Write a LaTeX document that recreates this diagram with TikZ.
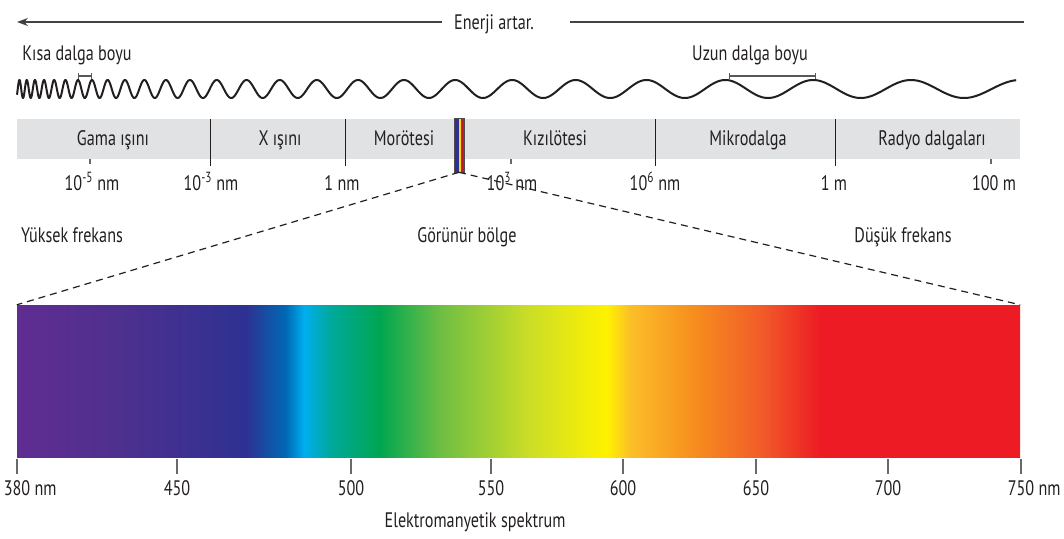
\documentclass[tikz,border=0pt]{standalone}
\usepackage{fontspec}
\setmainfont{PT Sans}[FakeStretch=0.77]
\usepackage{tikz}
\usetikzlibrary{arrows.meta,positioning}
\usepackage{xcolor}
\definecolor{ink}{RGB}{35,31,32}
\definecolor{bandgray}{RGB}{225,226,227}
\definecolor{tickgray}{RGB}{105,105,108}
\definecolor{sp0}{RGB}{96,45,145}
\definecolor{sp1}{RGB}{78,48,143}
\definecolor{sp2}{RGB}{46,49,146}
\definecolor{sp3}{RGB}{20,80,165}
\definecolor{sp4}{RGB}{0,104,180}
\definecolor{sp5}{RGB}{0,174,239}
\definecolor{sp6}{RGB}{0,169,157}
\definecolor{sp7}{RGB}{0,166,81}
\definecolor{sp8}{RGB}{110,190,68}
\definecolor{sp9}{RGB}{205,222,38}
\definecolor{sp10}{RGB}{255,242,0}
\definecolor{sp11}{RGB}{252,190,40}
\definecolor{sp12}{RGB}{246,142,30}
\definecolor{sp13}{RGB}{241,90,41}
\definecolor{sp14}{RGB}{237,28,36}
\definecolor{stripnavy}{RGB}{46,49,146}
\definecolor{stripyellow}{RGB}{255,222,0}
\definecolor{stripred}{RGB}{190,30,45}
\pgfdeclarehorizontalshading{visible}{100bp}{%
  color(0bp)=(sp0); color(25bp)=(sp0); color(30.1bp)=(sp1);
  color(36.4bp)=(sp2); color(37.5bp)=(sp3); color(38.4bp)=(sp4);
  color(39.3bp)=(sp5); color(40.6bp)=(sp6); color(43.1bp)=(sp7);
  color(46.1bp)=(sp8); color(50.6bp)=(sp9); color(54.4bp)=(sp10);
  color(55.6bp)=(sp11); color(58.7bp)=(sp12); color(62.2bp)=(sp13);
  color(65bp)=(sp14); color(75bp)=(sp14); color(100bp)=(sp14)}

\begin{document}
\begin{tikzpicture}[
      x=1pt, y=-1pt,
      txt/.style={font=\fontsize{21}{25}\selectfont, text=ink, inner sep=0pt, anchor=base},
      arrowline/.style={draw=ink!85, line width=1.2pt},
      wavecurve/.style={draw=ink, line width=2pt, line join=round},
      wlbar/.style={draw=ink!75, line width=1.1pt, {Bar[width=6pt]}-{Bar[width=6pt]}},
      band/.style={fill=bandgray, minimum width=1003pt, minimum height=40pt, inner sep=0pt},
      divider/.style={draw=ink, line width=1pt},
      smalltick/.style={draw=tickgray, line width=1.2pt},
      visstrip/.style={draw=ink!80, line width=.6pt, minimum width=10pt, minimum height=54pt,
                       inner sep=0pt, path picture={
                         \fill[stripnavy] (path picture bounding box.north west) rectangle ++(4.5,54);
                         \fill[stripyellow] ([xshift=4.5]path picture bounding box.north west) rectangle ++(2.2,54);
                         \fill[stripred] ([xshift=6.7]path picture bounding box.north west) rectangle ++(3.3,54);}},
      spectrum/.style={shade, shading=visible, minimum width=1003pt, minimum height=152pt, inner sep=0pt},
      dashline/.style={draw=ink, line width=1.2pt, dash pattern=on 7pt off 5pt}
    ]
    \useasboundingbox (0,0) rectangle (1064,538);

    % energy arrow
    \node[txt] (energy) at (494,29) {Enerji artar.};
    \coordinate (eleft)  at (17,22);
    \coordinate (egapl)  at (442,22);
    \coordinate (egapr)  at (570,22);
    \coordinate (eright) at (1024,22);
    \draw[arrowline, -{Stealth[length=11pt,width=8pt]}] (egapl) -- (eleft);
    \draw[arrowline] (egapr) -- (eright);

    % wave with growing wavelength
    \node[txt] (short) at (77,60)  {Kısa dalga boyu};
    \node[txt] (long)  at (750,60) {Uzun dalga boyu};
    \draw[wavecurve] plot[domain=-6.36:19.97, samples=1600]
      ({122.8*exp(0.108*\x)-44.8}, {89-9*cos(360*\x)});
    \draw[wlbar] (78,76) -- (92,76);
    \draw[wlbar] (729,76) -- (816,76);

    % band of regions
    \node[band] (band) at (518.5,139) {};
    \foreach \x/\lab [count=\i] in {113/Gama ışını, 280/X ışını, 404/Morötesi,
                                    555/Kızılötesi, 748/Mikrodalga, 932/Radyo dalgaları}
      \node[txt] (region\i) at (\x,145) {\lab};
    \foreach \x in {210,345,655,835}
      \draw[divider] (\x,119) -- (\x,166);
    \foreach \x in {90,511,991}
      \draw[smalltick] (\x,159) -- (\x,164);
    \node[visstrip] (vis) at (459,145) {};

    % wavelength scale
    \foreach \x/\lab [count=\i] in {92/10\textsuperscript{-5} nm, 211/10\textsuperscript{-3} nm,
                                    342/1 nm, 512/10\textsuperscript{3} nm,
                                    655/10\textsuperscript{6} nm, 834/1 m, 994/100 m}
      \node[txt] (scale\i) at (\x,190) {\lab};

    \node[txt] (high) at (72,242)  {Yüksek frekans};
    \node[txt] (vislab) at (467,242) {Görünür bölge};
    \node[txt] (low)  at (903,242) {Düşük frekans};

    % visible spectrum
    \node[spectrum] (spec) at (518.5,381) {};
    \draw[dashline] (vis.south) -- (spec.north west);
    \draw[dashline] (vis.south) -- (spec.north east);

    \foreach \x/\lab [count=\i] in {17/380\rlap{\ nm}, 177/450, 351/500, 491/550,
                                    623/600, 756/650, 888/700, 1021/750\rlap{\ nm}} {
      \draw[smalltick] (\x,459) -- (\x,474);
      \node[txt] (nm\i) at (\x,495) {\lab};
    }
    \node[txt] (title) at (475,527) {Elektromanyetik spektrum};
  \end{tikzpicture}
\end{document}
